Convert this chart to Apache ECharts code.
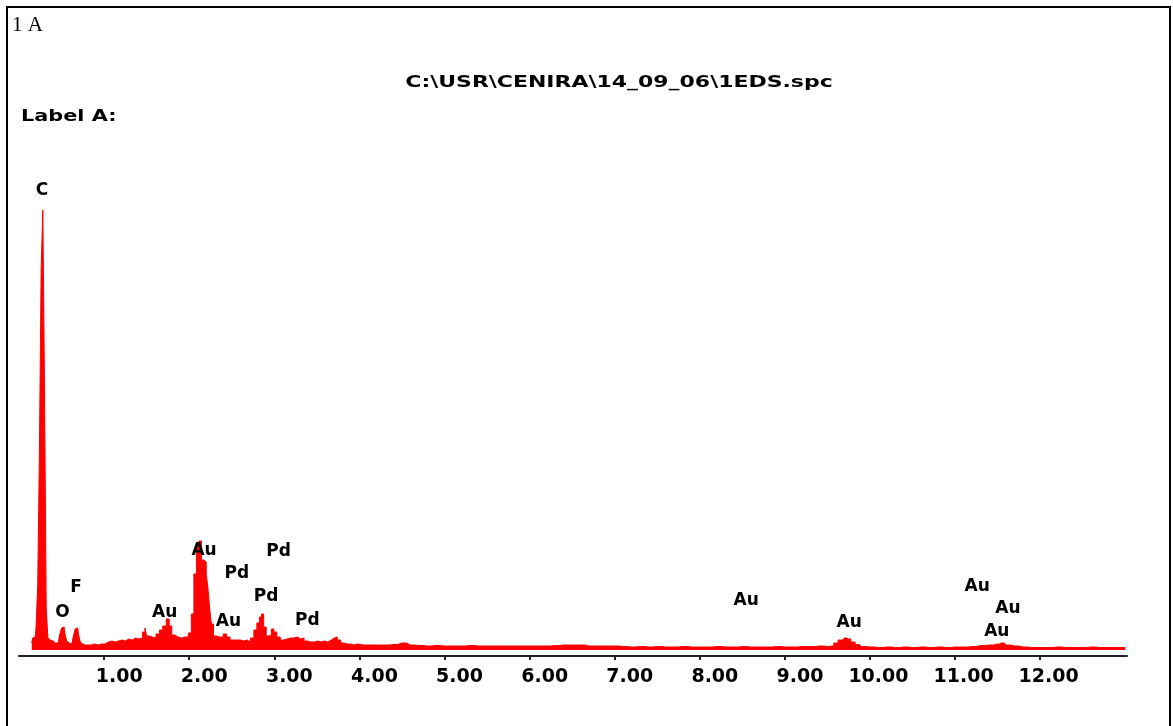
<!DOCTYPE html>
<html>
<head>
<meta charset="utf-8">
<script src="https://cdn.jsdelivr.net/npm/echarts@6/dist/echarts.min.js"></script>
<style>
html,body{margin:0;padding:0;background:#fff;}
#chart{width:1173px;height:726px;}
</style>
</head>
<body>
<div id="chart"></div>
<script>
// ---- Text ----
const panelTag = '1 A';
const fileTitle = 'C:\\USR\\CENIRA\\14_09_06\\1EDS.spc';
const labelText = 'Label A:';

// ---- X axis ticks (keV) ----
const tickKeV = [1, 2, 3, 4, 5, 6, 7, 8, 9, 10, 11, 12];

// ---- Spectrum: [energy keV, counts] ----
const lowEnergyPart = [
  [0.15, 70], [0.17, 120], [0.19, 130], [0.21, 220], [0.23, 650], [0.25, 2000],
  [0.27, 3800], [0.29, 4400], [0.31, 2600], [0.33, 400], [0.35, 120], [0.37, 100],
  [0.39, 90], [0.41, 80], [0.43, 70], [0.45, 70], [0.47, 90], [0.49, 160],
  [0.51, 220], [0.53, 230], [0.55, 160], [0.57, 90], [0.59, 70], [0.61, 60],
  [0.63, 70], [0.65, 140], [0.67, 210], [0.69, 220], [0.71, 150], [0.73, 80],
  [0.75, 60], [0.77, 50], [0.79, 50]
];
const midEnergyPart = [
  [0.83, 50], [0.87, 60], [0.91, 50], [0.95, 60], [0.99, 60], [1.03, 80],
  [1.07, 90], [1.11, 80], [1.15, 90], [1.19, 100], [1.23, 90], [1.27, 110],
  [1.31, 100], [1.35, 120], [1.39, 110], [1.43, 120], [1.47, 180], [1.49, 220],
  [1.51, 140], [1.55, 130], [1.59, 120], [1.63, 160], [1.67, 200], [1.71, 240],
  [1.75, 310], [1.78, 240], [1.81, 150], [1.85, 130], [1.89, 120], [1.93, 130],
  [1.97, 130], [2.01, 170], [2.04, 360], [2.07, 760], [2.10, 1060], [2.13, 1090],
  [2.16, 900], [2.19, 880], [2.21, 760], [2.23, 620], [2.25, 420], [2.27, 260],
  [2.30, 140], [2.34, 130], [2.38, 130], [2.42, 160], [2.46, 130], [2.50, 100],
  [2.54, 100], [2.58, 100], [2.62, 90], [2.66, 100], [2.70, 80], [2.74, 120],
  [2.78, 200], [2.81, 270], [2.84, 330], [2.86, 360], [2.89, 230], [2.92, 140],
  [2.95, 150], [2.98, 210], [3.01, 180], [3.05, 130], [3.09, 100], [3.13, 110],
  [3.17, 120], [3.21, 120], [3.25, 130], [3.29, 110], [3.33, 120], [3.37, 90],
  [3.41, 80], [3.45, 80], [3.49, 90], [3.53, 80], [3.57, 90], [3.61, 80],
  [3.65, 100], [3.69, 120], [3.72, 130], [3.76, 100], [3.80, 70], [3.84, 60],
  [3.88, 60], [3.92, 50], [3.96, 60], [4.00, 50]
];
const highEnergyPart = [
  [4.1, 50], [4.2, 50], [4.3, 50], [4.4, 55], [4.5, 70], [4.6, 50], [4.7, 45],
  [4.8, 40], [4.9, 45], [5.0, 40], [5.1, 40], [5.2, 40], [5.3, 45], [5.4, 40],
  [5.5, 40], [5.6, 40], [5.7, 40], [5.8, 40], [5.9, 40], [6.0, 40], [6.1, 40],
  [6.2, 40], [6.3, 45], [6.4, 50], [6.5, 50], [6.6, 50], [6.7, 40], [6.8, 40],
  [6.9, 40], [7.0, 40], [7.1, 35], [7.2, 30], [7.3, 35], [7.4, 30], [7.5, 35],
  [7.6, 30], [7.7, 30], [7.8, 35], [7.9, 30], [8.0, 30], [8.1, 30], [8.2, 35],
  [8.3, 30], [8.4, 30], [8.5, 35], [8.6, 30], [8.7, 30], [8.8, 30], [8.9, 35],
  [9.0, 30], [9.1, 30], [9.2, 35], [9.3, 35], [9.4, 40], [9.5, 35], [9.55, 40],
  [9.6, 70], [9.65, 100], [9.7, 120], [9.75, 110], [9.8, 80], [9.85, 55],
  [9.9, 35], [10.0, 30], [10.1, 25], [10.2, 30], [10.3, 25], [10.4, 30],
  [10.5, 25], [10.6, 30], [10.7, 25], [10.8, 30], [10.9, 25], [11.0, 30],
  [11.1, 30], [11.2, 35], [11.3, 45], [11.4, 50], [11.5, 60], [11.55, 70],
  [11.6, 50], [11.7, 40], [11.8, 30], [11.9, 25], [12.0, 25], [12.1, 25],
  [12.2, 30], [12.3, 25], [12.4, 25], [12.5, 25], [12.6, 30], [12.7, 25],
  [12.8, 25], [12.9, 25], [13.0, 25]
];

// ---- Element markers ----
const markerNames  = ['C', 'O', 'F', 'Au', 'Au', 'Pd', 'Au', 'Pd', 'Pd', 'Pd', 'Au', 'Au', 'Au', 'Au', 'Au'];
const markerKeV    = [0.271, 0.511, 0.671, 1.711, 2.175, 2.559, 2.461, 3.051, 2.904, 3.389, 8.545, 9.756, 11.26, 11.62, 11.49];
const markerCounts = [4590, 375, 620, 375, 990, 760, 280, 985, 530, 290, 495, 275, 635, 410, 180];

const spectrum = lowEnergyPart.concat(midEnergyPart, highEnergyPart);
const markers = markerNames.map((n, i) => ({ name: n, value: [markerKeV[i], markerCounts[i]] }));

const chart = echarts.init(document.getElementById('chart'), null, { renderer: 'canvas' });
const tickFont = 'DejaVu Sans';

chart.setOption({
  animation: false,
  backgroundColor: '#ffffff',
  grid: { left: 19, right: 46, top: 170, bottom: 70 },
  xAxis: [
    {
      type: 'value', min: 0, max: 13.02, position: 'bottom',
      axisLine: { show: true, onZero: false, lineStyle: { color: '#222', width: 2 } },
      axisTick: { show: true, customValues: tickKeV, length: 4, lineStyle: { color: '#222', width: 2 } },
      axisLabel: {
        customValues: tickKeV,
        margin: 12,
        formatter: v => '{t|' + Number(v).toFixed(2) + '}',
        rich: { t: { width: 77, align: 'right', fontFamily: tickFont, fontWeight: 'bold', fontSize: 19, color: '#000' } }
      },
      splitLine: { show: false }
    },
    {
      type: 'value', min: 0, max: 13.02, position: 'bottom', gridIndex: 0,
      axisLine: { show: false },
      axisTick: { show: true, inside: true, customValues: tickKeV, length: 3, lineStyle: { color: '#222', width: 2 } },
      axisLabel: { show: false },
      splitLine: { show: false }
    }
  ],
  yAxis: { type: 'value', min: -60, max: 4800, show: false, splitLine: { show: false } },
  series: [
    {
      type: 'line', data: spectrum, step: 'middle', showSymbol: false, symbol: 'none',
      lineStyle: { color: '#ff0000', width: 1 },
      areaStyle: { color: '#ff0000', opacity: 1 },
      z: 2
    },
    {
      type: 'scatter', data: markers, symbolSize: 0,
      itemStyle: { opacity: 1 },
      label: {
        show: true, position: 'inside', formatter: p => p.name, opacity: 1,
        fontFamily: 'DejaVu Sans', fontWeight: 'bold', fontSize: 17, color: '#000',
        textBorderWidth: 0
      },
      z: 3
    }
  ],
  graphic: [
    { type: 'rect', shape: { x: 7, y: 7, width: 1163, height: 800 }, style: { fill: 'none', stroke: '#000', lineWidth: 2 }, silent: true },
    { type: 'text', x: 12, y: 15, style: { text: panelTag, font: '21px "Liberation Serif"', fill: '#000', textAlign: 'left', textVerticalAlign: 'top' } },
    { type: 'text', x: 619, y: 83, scaleX: 1.373, style: { text: fileTitle, font: 'bold 16px "DejaVu Sans"', fill: '#000', textAlign: 'center', textVerticalAlign: 'middle' } },
    { type: 'text', x: 21, y: 117, scaleX: 1.3, style: { text: labelText, font: 'bold 16px "DejaVu Sans"', fill: '#000', textAlign: 'left', textVerticalAlign: 'middle' } }
  ]
});
</script>
</body>
</html>
